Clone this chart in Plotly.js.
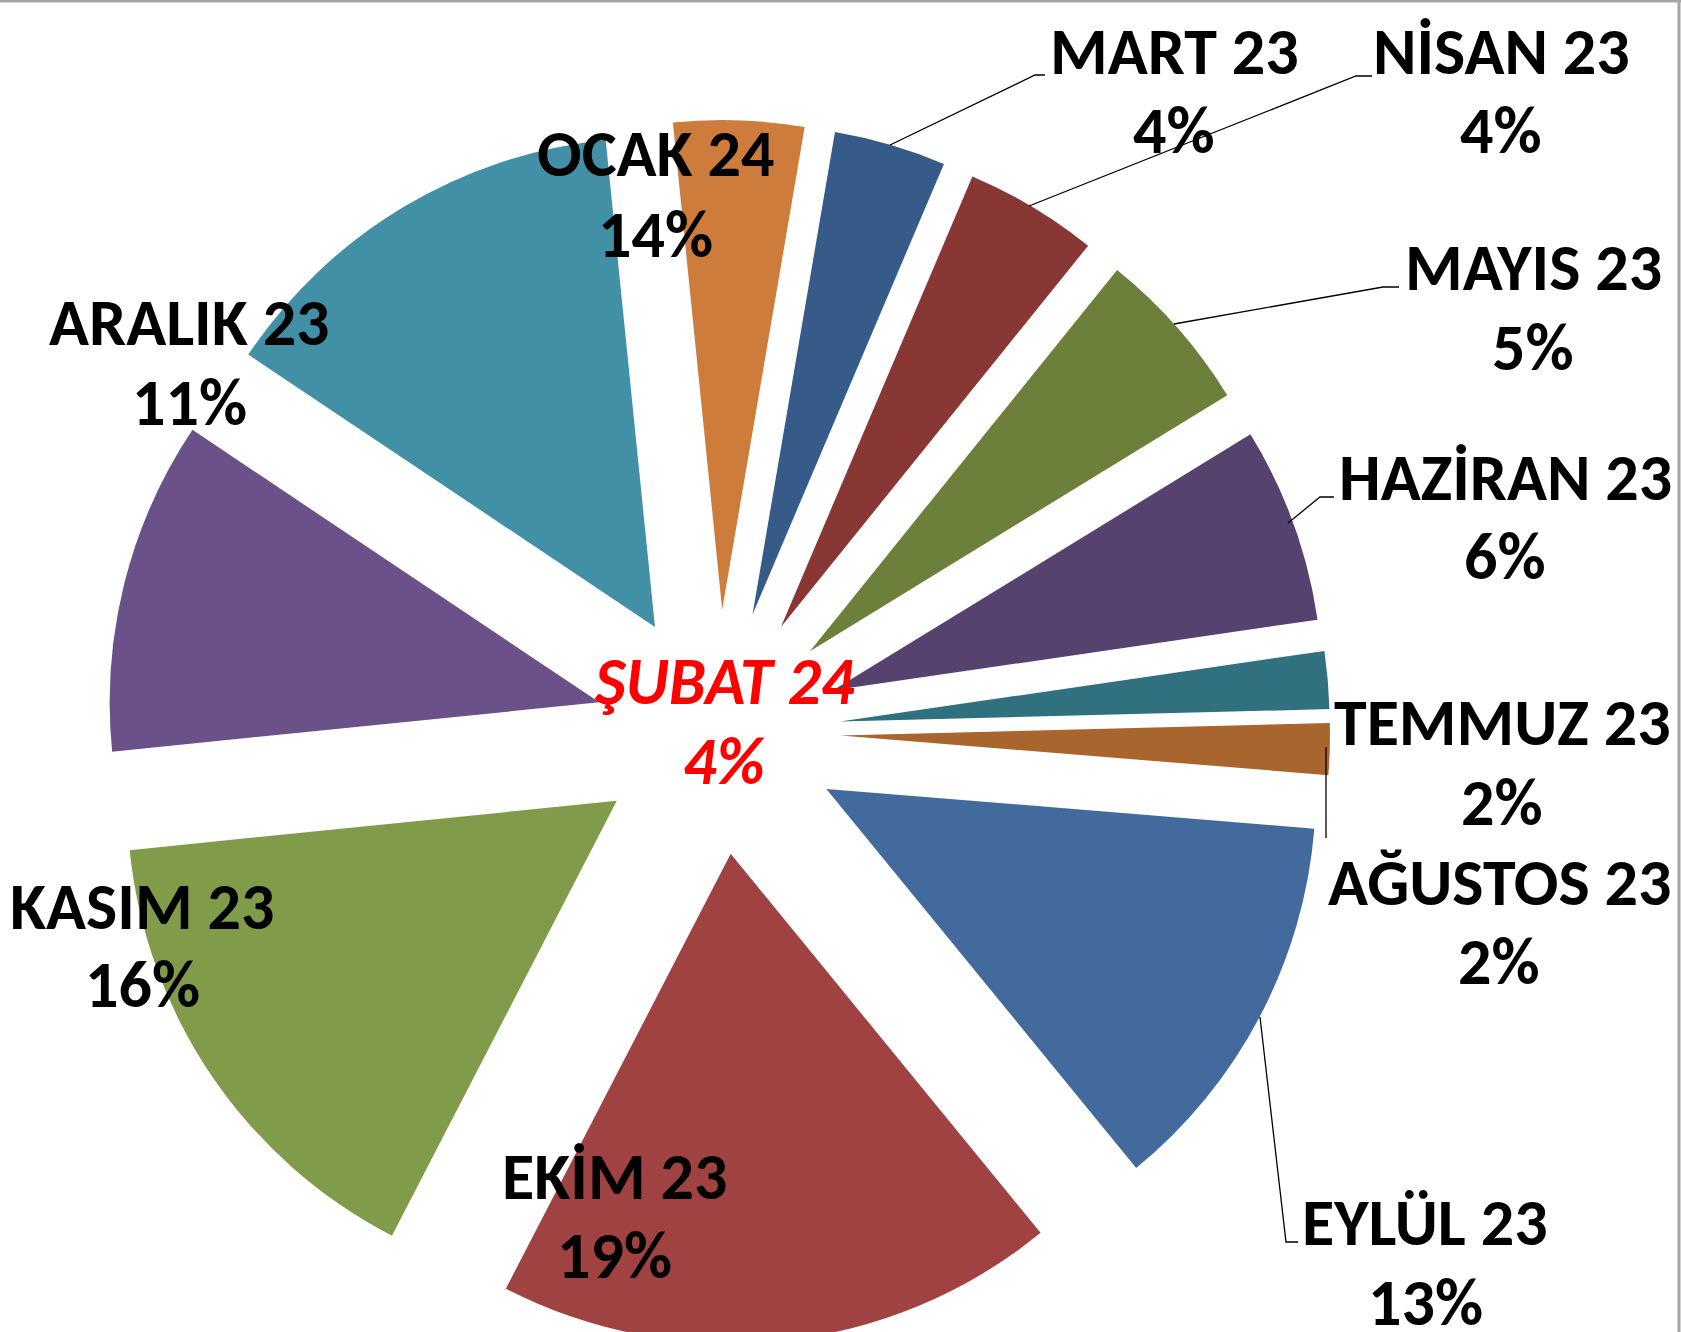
<!DOCTYPE html>
<html>
<head>
<meta charset="utf-8">
<script src="https://cdn.plot.ly/plotly-3.0.1.min.js"></script>
<style>
  html, body { margin: 0; padding: 0; overflow: hidden; background: #ffffff; }
  #chart { width: 1681px; height: 1400px; }
</style>
</head>
<body>
<div id="chart"></div>
<script>
// ---- Data (slice sizes,
//      labels show the rounded percentages printed on the chart) ----
const months = ['MART 23', 'NİSAN 23', 'MAYIS 23', 'HAZİRAN 23', 'TEMMUZ 23', 'AĞUSTOS 23',
                'EYLÜL 23', 'EKİM 23', 'KASIM 23', 'ARALIK 23', 'OCAK 24', 'ŞUBAT 24'];
const shares = [3.7, 4.4, 5.45, 6.45, 1.9, 1.7, 12.8, 18.5, 15.8, 11.0, 14.0, 4.3];
const sliceColors = ['#375B88', '#893735', '#6C803C', '#56426E', '#31717F', '#A8652E',
                     '#436A9D', '#A04241', '#809B4A', '#6A5189', '#4290A6', '#CE7C3B'];

// ---- Layout helpers (pixel positions of the label text, leader lines) ----
const W = 1681, H = 1400;
const px = x => x / W;
const py = y => 1 - y / H;

// label line centres [x, yLine1, yLine2] in page pixels
const labelPos = {
  'MART 23':    [1174, 51, 131],
  'NİSAN 23':   [1501, 51, 130],
  'MAYIS 23':   [1533, 268, 347],
  'HAZİRAN 23': [1505, 477, 556],
  'TEMMUZ 23':  [1502, 722, 802],
  'AĞUSTOS 23': [1499, 882, 961],
  'EYLÜL 23':   [1425, 1222, 1302],
  'EKİM 23':    [614, 1176, 1255],
  'KASIM 23':   [142, 906, 984],
  'ARALIK 23':  [189, 323, 403],
  'OCAK 24':    [655, 154, 234],
  'ŞUBAT 24':   [724, 681, 761]
};

// leader lines as polylines in page pixels
const leaders = [
  [[890, 145], [1035, 75], [1045, 75]],
  [[1029, 206], [1356, 76], [1372, 76]],
  [[1174, 324], [1383, 287], [1399, 287]],
  [[1288, 523], [1320, 497], [1334, 497]],
  [[1326, 747], [1326, 838]],
  [[1260, 1017], [1286, 1242], [1298, 1242]]
];

const fontFam = 'Carlito, Lato, "Open Sans", sans-serif';

const annotations = [];
months.forEach((m, i) => {
  const p = labelPos[m];
  const isRed = m === 'ŞUBAT 24';
  const pct = Math.round(shares[i]) + '%';
  const txt1 = isRed ? '<i>' + m + '</i>' : m;
  const txt2 = isRed ? '<i>' + pct + '</i>' : pct;
  const f = {family: fontFam, size: 66, color: isRed ? '#FF0000' : '#000000', weight: 'bold'};
  annotations.push({x: px(p[0]), y: py(p[1]), xref: 'paper', yref: 'paper', text: '<b>' + txt1 + '</b>',
    showarrow: false, xanchor: 'center', yanchor: 'middle', font: f});
  annotations.push({x: px(p[0]), y: py(p[2]), xref: 'paper', yref: 'paper', text: '<b>' + txt2 + '</b>',
    showarrow: false, xanchor: 'center', yanchor: 'middle', font: f});
});

const shapes = leaders.map(pts => ({
  type: 'path', xref: 'paper', yref: 'paper',
  path: pts.map((q, k) => (k ? 'L' : 'M') + px(q[0]) + ',' + py(q[1])).join(' '),
  line: {color: '#000000', width: 1.3}
}));
// chart frame (top and right edges visible)
shapes.push({type: 'line', xref: 'paper', yref: 'paper', x0: 0, x1: 1, y0: py(1), y1: py(1),
  line: {color: '#A6A6A6', width: 3}});
shapes.push({type: 'line', xref: 'paper', yref: 'paper', x0: px(1679), x1: px(1679), y0: py(0), y1: 0,
  line: {color: '#A6A6A6', width: 3}});

// pie placement
const cx = 718, cy = 732, R = 612;

const trace = {
  type: 'pie',
  labels: months,
  values: shares,
  sort: false,
  direction: 'clockwise',
  rotation: 9.7,
  pull: 0.25,
  textinfo: 'none',
  hoverinfo: 'label+percent',
  marker: {colors: sliceColors, line: {width: 0}},
  domain: {x: [px(cx - R), px(cx + R)], y: [py(cy + R), py(cy - R)]},
  showlegend: false
};

const layout = {
  width: W, height: H,
  margin: {l: 0, r: 0, t: 0, b: 0},
  paper_bgcolor: '#FFFFFF',
  showlegend: false,
  annotations: annotations,
  shapes: shapes
};

Plotly.newPlot('chart', [trace], layout, {displayModeBar: false, staticPlot: true});
</script>
</body>
</html>
